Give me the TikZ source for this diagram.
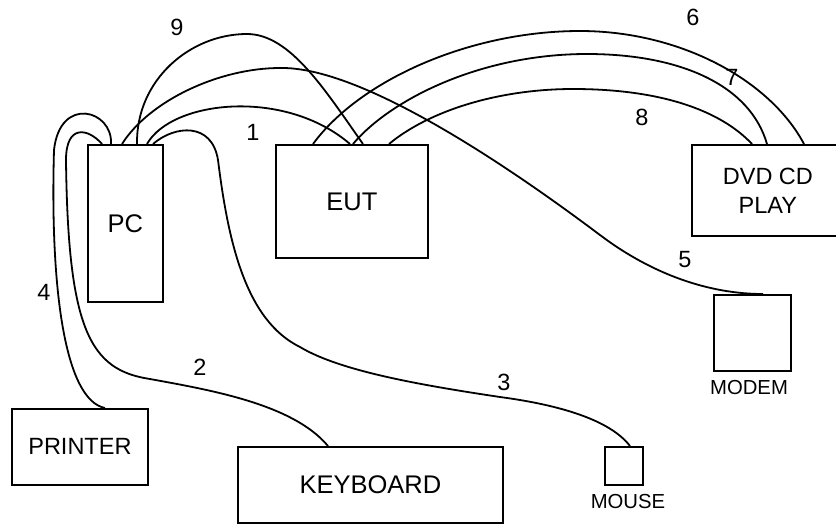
\documentclass[tikz,border=0pt]{standalone}
\usepackage{fontspec}
\setmainfont{Liberation Sans}
\usetikzlibrary{calc}
\begin{document}
\begin{tikzpicture}[x=1pt,y=-1pt]
\tikzset{
  unit/.style={draw, line width=1.8pt, inner sep=0pt, anchor=north west, align=center},
  cable/.style={line width=1.8pt},
  num/.style={font=\fontsize{23.5}{28}\selectfont, inner sep=0pt},
  big/.style={font=\fontsize{25.5}{29}\selectfont},
  mid/.style={font=\fontsize{23.5}{29}\selectfont},
  small/.style={font=\fontsize{20.3}{24}\selectfont, inner sep=0pt},
}
\useasboundingbox (0,0) rectangle (836,523);

% equipment
\node[unit, big, minimum width=75pt,  minimum height=157pt] (pc) at (87,144) {PC};
\node[unit, big, minimum width=152pt, minimum height=113pt] (eut) at (275,144) {EUT};
\node[unit, mid, minimum width=152pt, minimum height=91pt]  (dvd) at (691,144) {DVD CD\\PLAY};
\node[unit, minimum width=77pt, minimum height=76pt] (modem) at (713,294) {};
\node[small] (modemlabel) at (749,388) {MODEM};
\node[unit, minimum width=38pt, minimum height=38pt] (mouse) at (604,446) {};
\node[small] (mouselabel) at (628,502) {MOUSE};
\node[unit, big, minimum width=265pt, minimum height=76pt] (keyboard) at (237,446) {KEYBOARD};
\node[unit, mid, minimum width=136pt, minimum height=76pt] (printer) at (11,408) {PRINTER};

% cables
% 1: PC - EUT
\draw[cable] ($(pc.north west)+(60,0)$) .. controls (172,100) and (285,88) .. ($(eut.north west)+(75,0)$);
% 9: PC - EUT
\draw[cable] ($(pc.north west)+(50,0)$) .. controls (136,80) and (190,34) .. (247,34)
  .. controls (290,34) and (325,90) .. ($(eut.north west)+(88,0)$);
% 5: PC - modem
\draw[cable] ($(pc.north west)+(35,0)$) .. controls (150,100) and (220,68) .. (280,68)
  .. controls (370,66) and (540,190) .. (600,235)
  .. controls (653,275) and (710,294) .. ($(modem.north west)+(50,0)$);
% 3: PC - mouse
\draw[cable] ($(pc.north west)+(66,0)$) .. controls (175,125) and (212,122) .. (218,160)
  .. controls (228,240) and (245,320) .. (300,347)
  .. controls (340,371) and (420,385) .. (500,397)
  .. controls (560,405) and (610,420) .. ($(mouse.north west)+(26,0)$);
% 2: PC - keyboard
\draw[cable] ($(pc.north west)+(15,0)$) .. controls (88,128) and (66,124) .. (66,160)
  .. controls (68,330) and (90,370) .. (150,379)
  .. controls (210,390) and (293,404) .. ($(keyboard.north west)+(91,0)$);
% 4: PC - printer
\draw[cable] ($(pc.north west)+(24,0)$) .. controls (113,110) and (60,95) .. (54,150)
  .. controls (50,290) and (65,400) .. ($(printer.north west)+(94,0)$);
% 6, 7, 8: EUT - DVD
\draw[cable] ($(eut.north west)+(38,0)$) .. controls (360,80) and (470,31) .. (580,31)
  .. controls (680,31) and (770,80) .. ($(dvd.north west)+(113,0)$);
\draw[cable] ($(eut.north west)+(78,0)$) .. controls (390,100) and (480,54) .. (587,54)
  .. controls (680,54) and (750,85) .. ($(dvd.north west)+(76,0)$);
\draw[cable] ($(eut.north west)+(114,0)$) .. controls (430,110) and (500,89) .. (573,89)
  .. controls (660,89) and (720,110) .. ($(dvd.north west)+(61,0)$);

% cable numbers
\node[num] (n1) at (253,132) {1};
\node[num] (n2) at (200,367) {2};
\node[num] (n3) at (504,382) {3};
\node[num] (n4) at (44,292) {4};
\node[num] (n5) at (685,260) {5};
\node[num] (n6) at (693,17) {6};
\node[num] (n7) at (732,77) {7};
\node[num] (n8) at (642,117) {8};
\node[num] (n9) at (177,27) {9};
\end{tikzpicture}
\end{document}
